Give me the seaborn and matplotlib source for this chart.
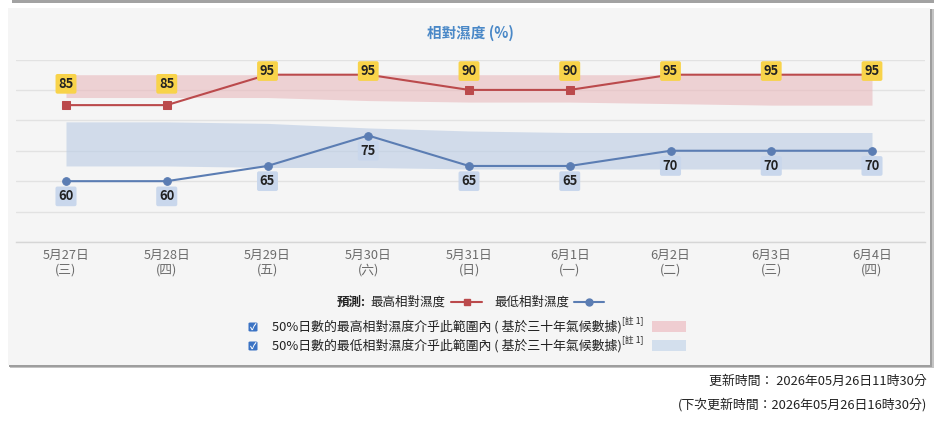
import numpy as np
import pandas as pd
import seaborn as sns
import matplotlib.pyplot as plt
from matplotlib.patches import Rectangle, FancyBboxPatch
from matplotlib.lines import Line2D

sns.set_theme(style="white")
plt.rcParams['font.family'] = ['Noto Sans CJK TC', 'DejaVu Sans']
plt.rcParams['axes.unicode_minus'] = False

# data
dates = ["5月27日", "5月28日", "5月29日", "5月30日", "5月31日", "6月1日", "6月2日", "6月3日", "6月4日"]
weekdays = ["三", "四", "五", "六", "日", "一", "二", "三", "四"]
max_rh = [85, 85, 95, 95, 90, 90, 95, 95, 95]
min_rh = [60, 60, 65, 75, 65, 65, 70, 70, 70]
max_band_low = [87.5, 87.5, 87.5, 86.5, 86, 86, 85.5, 85, 85]
max_band_high = [95, 95, 95, 95, 95, 95, 95, 95, 95]
min_band_low = [65, 65, 64.5, 64.5, 64, 64, 64, 64, 64]
min_band_high = [79.5, 79.5, 79, 77.5, 76.5, 76, 76, 76, 76]

W, H = 942, 432
RED = "#bb4a4c"
BLUE = "#5b7db3"


def fx(px):
    return px / W


def fy(py):
    return 1 - py / H


df = pd.DataFrame({
    "i": np.arange(len(dates)),
    "max": max_rh,
    "min": min_rh,
})

fig = plt.figure(figsize=(W / 100, H / 100), dpi=100)
fig.patch.set_facecolor("white")

# panel with soft shadow
fig.add_artist(Rectangle((fx(10), fy(367.5)), fx(923.5), 359 / H, color="#c4c4c4", zorder=-4, lw=0))
fig.add_artist(Rectangle((fx(9), fy(366.5)), fx(922.5), 358 / H, color="#9e9e9e", zorder=-3, lw=0))
fig.add_artist(Rectangle((fx(8), fy(365)), fx(922), 357 / H, color="#f5f5f5", zorder=-2, lw=0))
fig.add_artist(Rectangle((fx(12), fy(2.5)), fx(922), 2.5 / H, color="#a2a2a2", zorder=-2, lw=0))

ax = fig.add_axes([fx(16), fy(242), fx(909), (242 - 59.5) / H])
ax.patch.set_alpha(0)

# climate bands
ax.fill_between(df["i"], max_band_low, max_band_high, color="#e9b9bd", alpha=0.6, lw=0, zorder=1)
ax.fill_between(df["i"], min_band_low, min_band_high, color="#b9cbe4", alpha=0.6, lw=0, zorder=1)

sns.lineplot(data=df, x="i", y="max", ax=ax, color=RED, linewidth=1.5,
             marker="s", markersize=5.5, markeredgecolor=RED, zorder=3)
sns.lineplot(data=df, x="i", y="min", ax=ax, color=BLUE, linewidth=1.5,
             marker="o", markersize=5.5, markeredgecolor=BLUE, zorder=3)

# data labels
for i, v in enumerate(max_rh):
    ax.text(i, min(v + 7, 96.2), str(v), ha="center", va="center", fontsize=9.3,
            fontweight="bold", color="#222222", zorder=5,
            bbox=dict(boxstyle="round,pad=0.22,rounding_size=0.15", fc="#f8d34a", ec="none"))
for i, v in enumerate(min_rh):
    ax.text(i, v - 5, str(v), ha="center", va="center", fontsize=9.3,
            fontweight="bold", color="#222222", zorder=5,
            bbox=dict(boxstyle="round,pad=0.22,rounding_size=0.15", fc="#c9d7ec", ec="none"))

ax.set_xlim(-50 / 100.75, 8 + 53 / 100.75)
ax.set_ylim(40, 100)
ax.set_yticks(np.arange(40, 101, 10))
ax.set_yticklabels([])
ax.grid(axis="y", color="#e2e2e2", lw=1)
ax.set_axisbelow(True)
ax.set_xticks(df["i"])
ax.set_xticklabels([f"{d}\n({w})" for d, w in zip(dates, weekdays)], color="#6b6b6b", fontsize=9.2,
                   linespacing=1.12)
ax.tick_params(axis="x", length=0, pad=5)
ax.tick_params(axis="y", length=0)
ax.set_xlabel("")
ax.set_ylabel("")
for s in ["top", "right", "left"]:
    ax.spines[s].set_visible(False)
ax.spines["bottom"].set_color("#d6d6d6")
ax.spines["bottom"].set_linewidth(1)

# title
fig.text(fx(470), fy(33), "相對濕度 (%)", ha="center", va="center", fontsize=10.5,
         fontweight="bold", color="#4a88c7")

# legend row 1
fig.text(fx(337), fy(302), "預測:", ha="left", va="center", fontsize=9, fontweight="bold", color="#222222")
fig.text(fx(370), fy(302), "最高相對濕度", ha="left", va="center", fontsize=9, color="#222222")
fig.add_artist(Line2D([fx(451), fx(482)], [fy(302), fy(302)], color=RED, lw=1.5, zorder=4))
fig.add_artist(Line2D([fx(466.5)], [fy(302)], color=RED, marker="s", markersize=5, zorder=5))
fig.text(fx(494), fy(302), "最低相對濕度", ha="left", va="center", fontsize=9, color="#222222")
fig.add_artist(Line2D([fx(574), fx(604)], [fy(302), fy(302)], color=BLUE, lw=1.5, zorder=4))
fig.add_artist(Line2D([fx(589)], [fy(302)], color=BLUE, marker="o", markersize=5, zorder=5))

# legend rows 2-3
rows = [
    ("50%日數的最高相對濕度介乎此範圍內 ( 基於三十年氣候數據)", "#efcdd1", 327),
    ("50%日數的最低相對濕度介乎此範圍內 ( 基於三十年氣候數據)", "#d3dfed", 346),
]
for label, sw, py in rows:
    fig.add_artist(FancyBboxPatch((fx(248.5), fy(py + 4.5)), fx(9), 9 / H,
                                  boxstyle="round,pad=0,rounding_size=0.002",
                                  fc="#3b73c4", ec="none", zorder=4))
    fig.text(fx(253), fy(py), "✓", ha="center", va="center", fontsize=6.5, color="white",
             fontweight="bold", zorder=5)
    fig.text(fx(272), fy(py), label, ha="left", va="center", fontsize=9.3, color="#222222")
    fig.text(fx(622), fy(py - 6), "[註 1]", ha="left", va="center", fontsize=6.3, color="#222222")
    fig.add_artist(Rectangle((fx(652), fy(py + 5)), fx(34), 11 / H, color=sw, lw=0, zorder=4))

# update time
fig.text(fx(927), fy(381), "更新時間： 2026年05月26日11時30分", ha="right", va="center",
         fontsize=9.3, color="#222222")
fig.text(fx(927), fy(405), "(下次更新時間：2026年05月26日16時30分)", ha="right", va="center",
         fontsize=9.3, color="#222222")

plt.savefig("out.png", dpi=100)
